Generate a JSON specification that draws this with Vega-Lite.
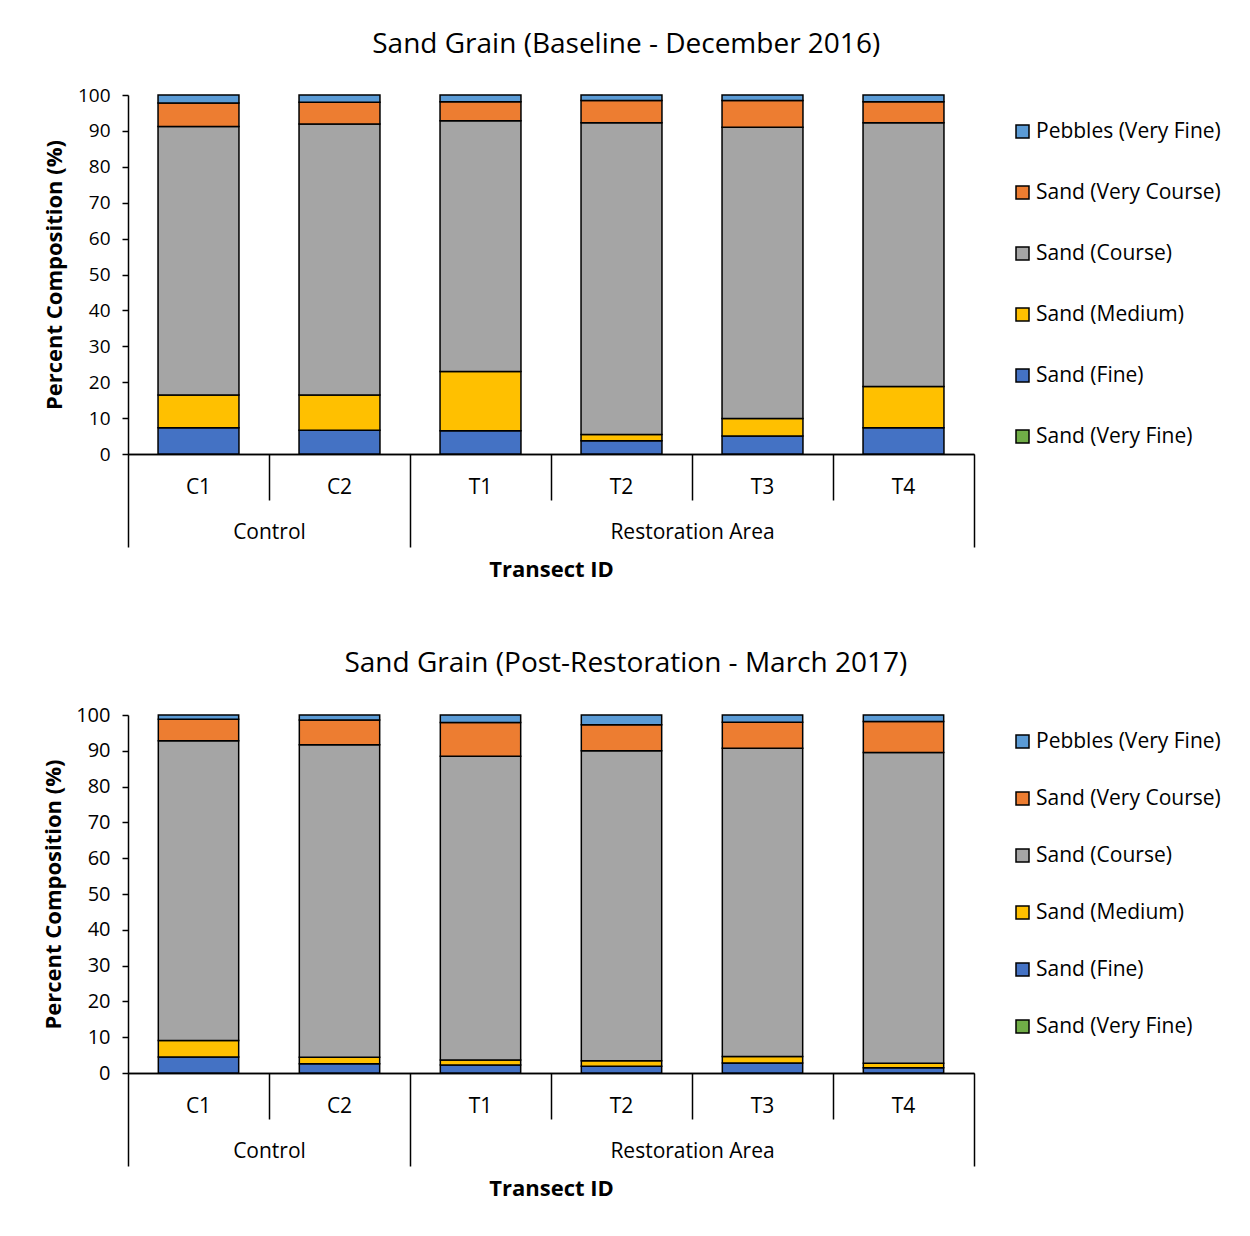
{
  "$schema": "https://vega.github.io/schema/vega-lite/v6.json",
  "padding": {"left": 42, "top": 31, "right": 5, "bottom": 5},
  "background": "white",
  "spacing": 69,
  "config": {
    "font": "Open Sans",
    "view": {"stroke": null},
    "axis": {"labelColor": "black", "titleColor": "black", "domainColor": "black", "tickColor": "black", "labelFont": "Open Sans", "titleFont": "Open Sans", "grid": false},
    "legend": {"labelColor": "black", "labelFont": "Open Sans"},
    "title": {"color": "black", "font": "Open Sans"}
  },
  "datasets": {
    "baseline": [
      {"transect": "C1", "area": "Control", "grain": "Sand (Fine)", "min_mm": 0.125, "pct": 7.3},
      {"transect": "C1", "area": "Control", "grain": "Sand (Medium)", "min_mm": 0.25, "pct": 9.1},
      {"transect": "C1", "area": "Control", "grain": "Sand (Course)", "min_mm": 0.5, "pct": 74.8},
      {"transect": "C1", "area": "Control", "grain": "Sand (Very Course)", "min_mm": 1, "pct": 6.6},
      {"transect": "C1", "area": "Control", "grain": "Pebbles (Very Fine)", "min_mm": 2, "pct": 2.2},
      {"transect": "C2", "area": "Control", "grain": "Sand (Fine)", "min_mm": 0.125, "pct": 6.6},
      {"transect": "C2", "area": "Control", "grain": "Sand (Medium)", "min_mm": 0.25, "pct": 9.8},
      {"transect": "C2", "area": "Control", "grain": "Sand (Course)", "min_mm": 0.5, "pct": 75.5},
      {"transect": "C2", "area": "Control", "grain": "Sand (Very Course)", "min_mm": 1, "pct": 6.1},
      {"transect": "C2", "area": "Control", "grain": "Pebbles (Very Fine)", "min_mm": 2, "pct": 2.0},
      {"transect": "T1", "area": "Restoration Area", "grain": "Sand (Fine)", "min_mm": 0.125, "pct": 6.5},
      {"transect": "T1", "area": "Restoration Area", "grain": "Sand (Medium)", "min_mm": 0.25, "pct": 16.5},
      {"transect": "T1", "area": "Restoration Area", "grain": "Sand (Course)", "min_mm": 0.5, "pct": 69.8},
      {"transect": "T1", "area": "Restoration Area", "grain": "Sand (Very Course)", "min_mm": 1, "pct": 5.3},
      {"transect": "T1", "area": "Restoration Area", "grain": "Pebbles (Very Fine)", "min_mm": 2, "pct": 1.9},
      {"transect": "T2", "area": "Restoration Area", "grain": "Sand (Fine)", "min_mm": 0.125, "pct": 3.7},
      {"transect": "T2", "area": "Restoration Area", "grain": "Sand (Medium)", "min_mm": 0.25, "pct": 1.7},
      {"transect": "T2", "area": "Restoration Area", "grain": "Sand (Course)", "min_mm": 0.5, "pct": 86.9},
      {"transect": "T2", "area": "Restoration Area", "grain": "Sand (Very Course)", "min_mm": 1, "pct": 6.2},
      {"transect": "T2", "area": "Restoration Area", "grain": "Pebbles (Very Fine)", "min_mm": 2, "pct": 1.5},
      {"transect": "T3", "area": "Restoration Area", "grain": "Sand (Fine)", "min_mm": 0.125, "pct": 5.0},
      {"transect": "T3", "area": "Restoration Area", "grain": "Sand (Medium)", "min_mm": 0.25, "pct": 4.9},
      {"transect": "T3", "area": "Restoration Area", "grain": "Sand (Course)", "min_mm": 0.5, "pct": 81.1},
      {"transect": "T3", "area": "Restoration Area", "grain": "Sand (Very Course)", "min_mm": 1, "pct": 7.5},
      {"transect": "T3", "area": "Restoration Area", "grain": "Pebbles (Very Fine)", "min_mm": 2, "pct": 1.5},
      {"transect": "T4", "area": "Restoration Area", "grain": "Sand (Fine)", "min_mm": 0.125, "pct": 7.3},
      {"transect": "T4", "area": "Restoration Area", "grain": "Sand (Medium)", "min_mm": 0.25, "pct": 11.5},
      {"transect": "T4", "area": "Restoration Area", "grain": "Sand (Course)", "min_mm": 0.5, "pct": 73.5},
      {"transect": "T4", "area": "Restoration Area", "grain": "Sand (Very Course)", "min_mm": 1, "pct": 5.8},
      {"transect": "T4", "area": "Restoration Area", "grain": "Pebbles (Very Fine)", "min_mm": 2, "pct": 1.9}
    ],
    "post": [
      {"transect": "C1", "area": "Control", "grain": "Sand (Fine)", "min_mm": 0.125, "pct": 4.5},
      {"transect": "C1", "area": "Control", "grain": "Sand (Medium)", "min_mm": 0.25, "pct": 4.6},
      {"transect": "C1", "area": "Control", "grain": "Sand (Course)", "min_mm": 0.5, "pct": 83.7},
      {"transect": "C1", "area": "Control", "grain": "Sand (Very Course)", "min_mm": 1, "pct": 6.0},
      {"transect": "C1", "area": "Control", "grain": "Pebbles (Very Fine)", "min_mm": 2, "pct": 1.2},
      {"transect": "C2", "area": "Control", "grain": "Sand (Fine)", "min_mm": 0.125, "pct": 2.6},
      {"transect": "C2", "area": "Control", "grain": "Sand (Medium)", "min_mm": 0.25, "pct": 1.8},
      {"transect": "C2", "area": "Control", "grain": "Sand (Course)", "min_mm": 0.5, "pct": 87.3},
      {"transect": "C2", "area": "Control", "grain": "Sand (Very Course)", "min_mm": 1, "pct": 6.9},
      {"transect": "C2", "area": "Control", "grain": "Pebbles (Very Fine)", "min_mm": 2, "pct": 1.4},
      {"transect": "T1", "area": "Restoration Area", "grain": "Sand (Fine)", "min_mm": 0.125, "pct": 2.2},
      {"transect": "T1", "area": "Restoration Area", "grain": "Sand (Medium)", "min_mm": 0.25, "pct": 1.4},
      {"transect": "T1", "area": "Restoration Area", "grain": "Sand (Course)", "min_mm": 0.5, "pct": 84.9},
      {"transect": "T1", "area": "Restoration Area", "grain": "Sand (Very Course)", "min_mm": 1, "pct": 9.4},
      {"transect": "T1", "area": "Restoration Area", "grain": "Pebbles (Very Fine)", "min_mm": 2, "pct": 2.1},
      {"transect": "T2", "area": "Restoration Area", "grain": "Sand (Fine)", "min_mm": 0.125, "pct": 1.9},
      {"transect": "T2", "area": "Restoration Area", "grain": "Sand (Medium)", "min_mm": 0.25, "pct": 1.5},
      {"transect": "T2", "area": "Restoration Area", "grain": "Sand (Course)", "min_mm": 0.5, "pct": 86.6},
      {"transect": "T2", "area": "Restoration Area", "grain": "Sand (Very Course)", "min_mm": 1, "pct": 7.3},
      {"transect": "T2", "area": "Restoration Area", "grain": "Pebbles (Very Fine)", "min_mm": 2, "pct": 2.7},
      {"transect": "T3", "area": "Restoration Area", "grain": "Sand (Fine)", "min_mm": 0.125, "pct": 2.8},
      {"transect": "T3", "area": "Restoration Area", "grain": "Sand (Medium)", "min_mm": 0.25, "pct": 1.8},
      {"transect": "T3", "area": "Restoration Area", "grain": "Sand (Course)", "min_mm": 0.5, "pct": 86.1},
      {"transect": "T3", "area": "Restoration Area", "grain": "Sand (Very Course)", "min_mm": 1, "pct": 7.3},
      {"transect": "T3", "area": "Restoration Area", "grain": "Pebbles (Very Fine)", "min_mm": 2, "pct": 2.0},
      {"transect": "T4", "area": "Restoration Area", "grain": "Sand (Fine)", "min_mm": 0.125, "pct": 1.5},
      {"transect": "T4", "area": "Restoration Area", "grain": "Sand (Medium)", "min_mm": 0.25, "pct": 1.2},
      {"transect": "T4", "area": "Restoration Area", "grain": "Sand (Course)", "min_mm": 0.5, "pct": 86.8},
      {"transect": "T4", "area": "Restoration Area", "grain": "Sand (Very Course)", "min_mm": 1, "pct": 8.7},
      {"transect": "T4", "area": "Restoration Area", "grain": "Pebbles (Very Fine)", "min_mm": 2, "pct": 1.8}
    ]
  },
  "vconcat": [
    {
      "title": {"text": "Sand Grain (Baseline - December 2016)", "fontSize": 28, "fontWeight": "normal", "anchor": "middle", "frame": "bounds", "offset": 27, "dx": -19},
      "width": 846,
      "height": 359,
      "layer": [
        {
          "data": {"name": "baseline"},
          "mark": {"type": "bar", "stroke": "black", "strokeWidth": 1.5},
          "encoding": {
            "x": {"field": "transect", "type": "nominal", "scale": {"paddingInner": 0.426, "paddingOuter": 0.213},
              "axis": {"title": null, "labelAngle": 0, "ticks": false, "domainWidth": 1.5, "labelPadding": 22, "labelFontSize": 21}},
            "y": {"field": "pct", "type": "quantitative", "stack": "zero", "scale": {"domain": [0, 100], "nice": false},
              "axis": {"title": "Percent Composition (%)", "values": [0, 10, 20, 30, 40, 50, 60, 70, 80, 90, 100], "labelOverlap": false, "tickSize": 6, "tickWidth": 1.5, "domainWidth": 1.5, "labelPadding": 12, "labelFontSize": 19, "titleFontSize": 22, "titleFontWeight": "bold", "titlePadding": 11}},
            "color": {"field": "grain", "type": "nominal",
              "scale": {"domain": ["Pebbles (Very Fine)", "Sand (Very Course)", "Sand (Course)", "Sand (Medium)", "Sand (Fine)", "Sand (Very Fine)"],
                        "range": ["#5B9BD5", "#ED7D31", "#A5A5A5", "#FFC000", "#4472C4", "#70AD47"]},
              "legend": {"title": null, "orient": "right", "symbolType": "square", "symbolSize": 169, "symbolStrokeColor": "black", "symbolStrokeWidth": 1.5, "labelFontSize": 21, "rowPadding": 39, "offset": 12, "padding": 26, "labelOffset": 3, "labelLimit": 400}},
            "order": {"field": "min_mm", "type": "quantitative", "sort": "ascending"}
          }
        },
        {
          "data": {"values": [{}]},
          "mark": {"type": "point", "opacity": 0},
          "encoding": {
            "x": {"datum": 0, "type": "quantitative", "scale": {"domain": [0, 6], "nice": false},
              "axis": {"orient": "bottom", "values": [1, 3, 4, 5], "title": null, "labels": false, "domain": false, "tickSize": 46, "tickWidth": 1.5}},
            "y": {"datum": 0, "type": "quantitative", "axis": {"values": [0, 10, 20, 30, 40, 50, 60, 70, 80, 90, 100], "labelOverlap": false}}
          }
        },
        {
          "data": {"values": [{}]},
          "mark": {"type": "point", "opacity": 0},
          "encoding": {
            "x": {"datum": 0, "type": "quantitative", "scale": {"domain": [0, 6], "nice": false},
              "axis": {"orient": "bottom", "values": [0, 1, 2, 4, 6], "title": "Transect ID", "labelExpr": "datum.value == 1 ? 'Control' : datum.value == 4 ? 'Restoration Area' : ''",
                "tickSize": 93, "tickWidth": 1.5, "domainWidth": 1.5, "tickOpacity": {"condition": {"test": "datum.value == 1 || datum.value == 4", "value": 0}, "value": 1},
                "labelPadding": -26, "labelFontSize": 21, "labelFlush": false, "labelOverlap": false, "titleFontSize": 22, "titleFontWeight": "bold", "titlePadding": 12}},
            "y": {"datum": 0, "type": "quantitative", "axis": {"values": [0, 10, 20, 30, 40, 50, 60, 70, 80, 90, 100], "labelOverlap": false}}
          }
        }
      ],
      "resolve": {"scale": {"x": "independent"}, "axis": {"x": "independent"}}
    },
    {
      "title": {"text": "Sand Grain (Post-Restoration - March 2017)", "fontSize": 28, "fontWeight": "normal", "anchor": "middle", "frame": "bounds", "offset": 27, "dx": -14},
      "width": 846,
      "height": 358,
      "layer": [
        {
          "data": {"name": "post"},
          "mark": {"type": "bar", "stroke": "black", "strokeWidth": 1.5},
          "encoding": {
            "x": {"field": "transect", "type": "nominal", "scale": {"paddingInner": 0.43, "paddingOuter": 0.215},
              "axis": {"title": null, "labelAngle": 0, "ticks": false, "domainWidth": 1.5, "labelPadding": 22, "labelFontSize": 21}},
            "y": {"field": "pct", "type": "quantitative", "stack": "zero", "scale": {"domain": [0, 100], "nice": false},
              "axis": {"title": "Percent Composition (%)", "values": [0, 10, 20, 30, 40, 50, 60, 70, 80, 90, 100], "labelOverlap": false, "tickSize": 6, "tickWidth": 1.5, "domainWidth": 1.5, "labelPadding": 12, "labelFontSize": 20, "titleFontSize": 22, "titleFontWeight": "bold", "titlePadding": 10}},
            "color": {"field": "grain", "type": "nominal",
              "scale": {"domain": ["Pebbles (Very Fine)", "Sand (Very Course)", "Sand (Course)", "Sand (Medium)", "Sand (Fine)", "Sand (Very Fine)"],
                        "range": ["#5B9BD5", "#ED7D31", "#A5A5A5", "#FFC000", "#4472C4", "#70AD47"]},
              "legend": {"title": null, "orient": "right", "symbolType": "square", "symbolSize": 169, "symbolStrokeColor": "black", "symbolStrokeWidth": 1.5, "labelFontSize": 21, "rowPadding": 35, "offset": 22, "padding": 16, "labelOffset": 3, "labelLimit": 400}},
            "order": {"field": "min_mm", "type": "quantitative", "sort": "ascending"}
          }
        },
        {
          "data": {"values": [{}]},
          "mark": {"type": "point", "opacity": 0},
          "encoding": {
            "x": {"datum": 0, "type": "quantitative", "scale": {"domain": [0, 6], "nice": false},
              "axis": {"orient": "bottom", "values": [1, 3, 4, 5], "title": null, "labels": false, "domain": false, "tickSize": 46, "tickWidth": 1.5}},
            "y": {"datum": 0, "type": "quantitative", "axis": {"values": [0, 10, 20, 30, 40, 50, 60, 70, 80, 90, 100], "labelOverlap": false}}
          }
        },
        {
          "data": {"values": [{}]},
          "mark": {"type": "point", "opacity": 0},
          "encoding": {
            "x": {"datum": 0, "type": "quantitative", "scale": {"domain": [0, 6], "nice": false},
              "axis": {"orient": "bottom", "values": [0, 1, 2, 4, 6], "title": "Transect ID", "labelExpr": "datum.value == 1 ? 'Control' : datum.value == 4 ? 'Restoration Area' : ''",
                "tickSize": 93, "tickWidth": 1.5, "domainWidth": 1.5, "tickOpacity": {"condition": {"test": "datum.value == 1 || datum.value == 4", "value": 0}, "value": 1},
                "labelPadding": -26, "labelFontSize": 21, "labelFlush": false, "labelOverlap": false, "titleFontSize": 22, "titleFontWeight": "bold", "titlePadding": 12}},
            "y": {"datum": 0, "type": "quantitative", "axis": {"values": [0, 10, 20, 30, 40, 50, 60, 70, 80, 90, 100], "labelOverlap": false}}
          }
        }
      ],
      "resolve": {"scale": {"x": "independent"}, "axis": {"x": "independent"}}
    }
  ],
  "resolve": {"scale": {"x": "independent", "y": "independent", "color": "independent"}, "axis": {"x": "independent", "y": "independent"}, "legend": {"color": "independent"}}
}
